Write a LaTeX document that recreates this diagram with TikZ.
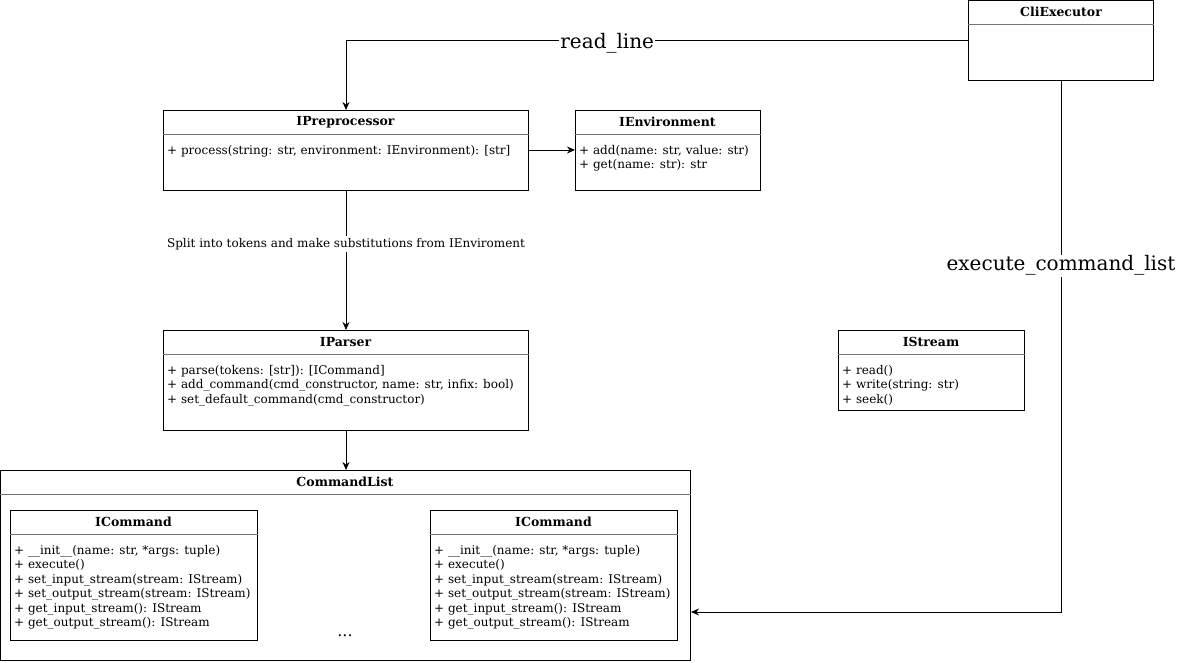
\documentclass[tikz,border=0pt]{standalone}
\usepackage{fontspec}
\setmainfont{DejaVu Serif}
\usepackage{tikz}
\usetikzlibrary{arrows.meta}

\tikzset{
  umlbox/.style={draw, line width=1pt, anchor=north west, inner sep=0pt},
  umltitle/.style={font=\bfseries\fontsize{12.5}{14}\selectfont, inner sep=0pt},
  umlbody/.style={font=\fontsize{12}{14.5}\selectfont, align=left, anchor=north west, inner sep=0pt},
  divider/.style={draw=black!55, line width=1pt},
  link/.style={line width=1pt, -{Stealth[length=8pt,width=7pt]}},
  biglabel/.style={fill=white, font=\fontsize{20}{24}\selectfont, inner sep=1pt},
  smalllabel/.style={fill=white, font=\fontsize{12}{14}\selectfont, inner sep=2pt}
}

\begin{document}
\begin{tikzpicture}[x=1pt, y=-1pt]
        \useasboundingbox (0,0) rectangle (1179,662);

        % CliExecutor
        \node[umlbox, minimum width=185pt, minimum height=80pt] (cli) at (968,0) {};
        \node[umltitle] (cliT) at (1061,12) {CliExecutor};
        \draw[divider] (cli.west |- 0,24) -- (cli.east |- 0,24);

        % IPreprocessor
        \node[umlbox, minimum width=365pt, minimum height=80pt] (pre) at (163,110) {};
        \node[umltitle] (preT) at (345.5,122) {IPreprocessor};
        \draw[divider] (pre.west |- 0,134) -- (pre.east |- 0,134);
        \node[umlbody] (preB) at (167,145) {+ process(string: str, environment: IEnvironment): [str]};

        % IEnvironment
        \node[umlbox, minimum width=185pt, minimum height=80pt] (env) at (575,110) {};
        \node[umltitle] (envT) at (667.5,122) {IEnvironment};
        \draw[divider] (env.west |- 0,134) -- (env.east |- 0,134);
        \node[umlbody] (envB) at (579,145) {+ add(name: str, value: str)\\+ get(name: str): str};

        % IParser
        \node[umlbox, minimum width=365pt, minimum height=100pt] (par) at (163,330) {};
        \node[umltitle] (parT) at (345.5,342) {IParser};
        \draw[divider] (par.west |- 0,354) -- (par.east |- 0,354);
        \node[umlbody] (parB) at (167,365) {+ parse(tokens: [str]): [ICommand]\\+ add\_command(cmd\_constructor, name: str, infix: bool)\\+ set\_default\_command(cmd\_constructor)};

        % IStream
        \node[umlbox, minimum width=186pt, minimum height=80pt] (str) at (838,330) {};
        \node[umltitle] (strT) at (931,342) {IStream};
        \draw[divider] (str.west |- 0,354) -- (str.east |- 0,354);
        \node[umlbody] (strB) at (842,365) {+ read()\\+ write(string: str)\\+ seek()};

        % CommandList with two ICommand
        \node[umlbox, minimum width=690pt, minimum height=190pt] (cmdlist) at (0,470) {};
        \node[umltitle] (cmdlistT) at (345,482) {CommandList};
        \draw[divider] (cmdlist.west |- 0,494) -- (cmdlist.east |- 0,494);

        \foreach \cx/\cn in {10/cmdA, 430/cmdB} {
          \node[umlbox, minimum width=247pt, minimum height=130pt] (\cn) at (\cx,510) {};
          \node[umltitle] (\cn T) at (\cx+123.5,522) {ICommand};
          \draw[divider] (\cn.west |- 0,534) -- (\cn.east |- 0,534);
          \node[umlbody] (\cn B) at (\cx+4,545) {+ \_\_init\_\_(name: str, *args: tuple)\\+ execute()\\+ set\_input\_stream(stream: IStream)\\+ set\_output\_stream(stream: IStream)\\+ get\_input\_stream(): IStream\\+ get\_output\_stream(): IStream};
        }
        \node[font=\fontsize{16}{18}\selectfont] (dots) at (345,636) {...};

        % Connectors
        \draw[link] (cli.west |- 0,40) -| (pre.north) node[biglabel, pos=0.29, yshift=-3pt] {read\_line};
        \draw[link] (pre.east |- 0,150) -- (env.west |- 0,150);
        \draw[link] (pre.south) -- (par.north) node[smalllabel, pos=0.38] {Split into tokens and make substitutions from IEnviroment};
        \draw[link] (par.south) -- (par.south |- cmdlist.north);
        \draw[link] (cli.south) |- (cmdlist.east |- 0,612) node[biglabel, pos=0.172, yshift=-2pt] {execute\_command\_list};
    \end{tikzpicture}
\end{document}
